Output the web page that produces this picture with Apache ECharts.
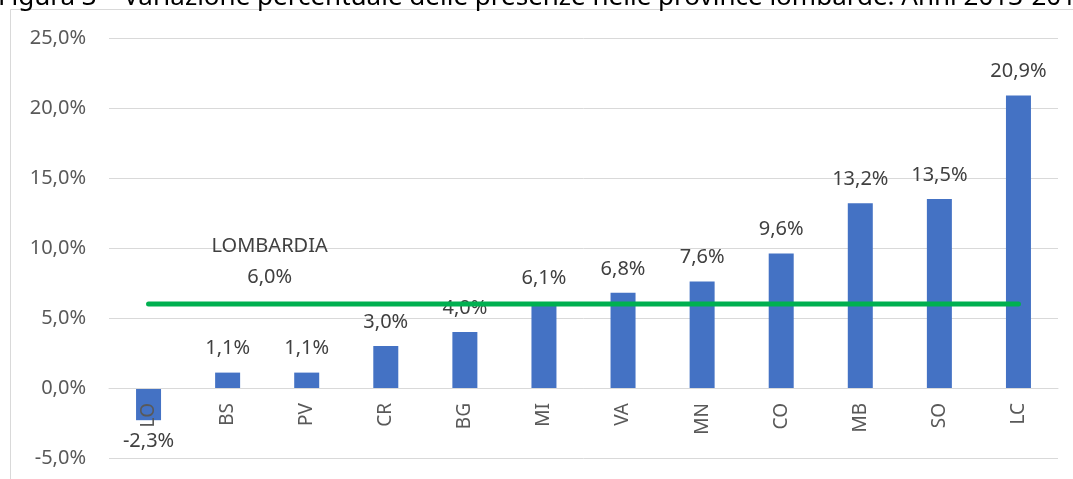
<!DOCTYPE html>
<html>
<head>
<meta charset="utf-8">
<script src="https://cdn.jsdelivr.net/npm/echarts@6/dist/echarts.min.js"></script>
<style>
  html, body { margin: 0; padding: 0; background: #fff; }
  #chart { width: 1073px; height: 479px; }
</style>
</head>
<body>
<div id="chart"></div>
<script>
// province lombarde
const categories = ['LO', 'BS', 'PV', 'CR', 'BG', 'MI', 'VA', 'MN', 'CO', 'MB', 'SO', 'LC']
const variazione = [-2.3, 1.1, 1.1, 3.0, 4.0, 6.1, 6.8, 7.6, 9.6, 13.2, 13.5, 20.9]
// media regionale, linea orizzontale
const lombardiaLine = [6.0, 6.0, 6.0, 6.0, 6.0, 6.0, 6.0, 6.0, 6.0, 6.0, 6.0, 6.0]
const yTicks = { min: -5, max: 25, interval: 5 }
const titleText = 'Figura 3 – Variazione percentuale delle presenze nelle province lombarde. Anni 2013-2018'

const FONT = '"Noto Sans", "Open Sans", sans-serif'
const fmtPct = (v) => v.toFixed(1).replace('.', ',') + '%'

const GRID_H = 479 - 38 - 21
// l'asse delle categorie sta sullo zero: spostamento dal fondo della griglia
const zeroOffset = -GRID_H * (0 - yTicks.min) / (yTicks.max - yTicks.min)

const chart = echarts.init(document.getElementById('chart'))

const option = {
  backgroundColor: '#fff',
  animation: false,
  graphic: [
    {
      type: 'rect',
      shape: { x: 10.5, y: 9.5, width: 1200, height: 600 },
      style: { fill: 'none', stroke: '#d9d9d9', lineWidth: 1 },
      silent: true
    },
    {
      type: 'text',
      x: -2,
      y: 11,
      style: {
        text: titleText,
        font: '26px ' + FONT,
        fill: '#000',
        verticalAlign: 'bottom'
      },
      silent: true
    }
  ],
  grid: {
    left: 109,
    right: 15,
    top: 38,
    bottom: 21,
    containLabel: false,
    outerBoundsMode: 'none'
  },
  xAxis: {
    type: 'category',
    data: categories,
    position: 'bottom',
    offset: zeroOffset,
    z: 5,
    axisLine: { onZero: false, lineStyle: { color: '#d9d9d9', width: 1 } },
    axisTick: { show: false },
    axisLabel: {
      rotate: 90,
      margin: 15,
      color: '#595959',
      fontSize: 19,
      fontFamily: FONT
    }
  },
  yAxis: {
    type: 'value',
    min: yTicks.min,
    max: yTicks.max,
    interval: yTicks.interval,
    axisLine: { show: false },
    axisTick: { show: false },
    axisLabel: {
      margin: 23,
      color: '#595959',
      fontSize: 20,
      fontFamily: FONT,
      formatter: (v) => fmtPct(v)
    },
    splitLine: { lineStyle: { color: '#d9d9d9', width: 1 } }
  },
  series: [
    {
      name: 'Variazione',
      type: 'bar',
      barWidth: 25,
      data: variazione.map(v => ({
        value: v,
        label: v < 0 ? { position: 'bottom', distance: 11 } : {}
      })),
      itemStyle: { color: '#4472c4' },
      label: {
        show: true,
        position: 'top',
        distance: 14,
        color: '#404040',
        fontSize: 20,
        fontFamily: FONT,
        formatter: (p) => fmtPct(p.value)
      }
    },
    {
      name: 'LOMBARDIA',
      type: 'line',
      data: lombardiaLine.map((v, i) => i === 1
        ? {
            value: v,
            label: {
              show: true,
              position: 'top',
              offset: [42, -5],
              lineHeight: 31,
              align: 'center',
              color: '#404040',
              fontSize: 20,
              fontFamily: FONT,
              formatter: 'LOMBARDIA\n' + fmtPct(v)
            }
          }
        : v),
      symbol: 'circle',
      symbolSize: 3,
      itemStyle: { color: '#00b050' },
      lineStyle: { color: '#00b050', width: 5, cap: 'round' },
      z: 3
    }
  ]
}

chart.setOption(option)
</script>
</body>
</html>
